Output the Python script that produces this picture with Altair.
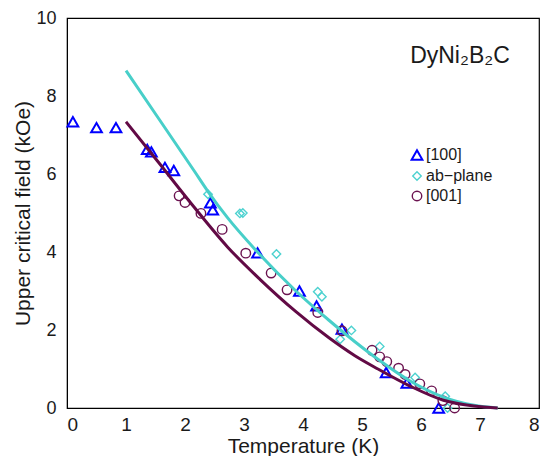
import altair as alt
import pandas as pd

# ---- data ----
tri_T = [0.10, 0.50, 0.83, 1.36, 1.43, 1.66, 1.81, 2.43, 2.47, 3.23, 3.94, 4.23, 4.66, 5.41, 5.76, 6.30]
tri_H = [7.34, 7.19, 7.19, 6.63, 6.57, 6.17, 6.09, 5.26, 5.08, 3.98, 3.00, 2.62, 2.02, 0.91, 0.64, 0.00]

dia_T = [2.39, 2.93, 2.98, 3.55, 4.25, 4.32, 4.63, 4.82, 5.30, 5.90, 6.41, 6.45]
dia_H = [5.48, 4.99, 5.00, 3.95, 2.98, 2.85, 1.76, 1.99, 1.58, 0.78, 0.30, 0.00]

circ_T = [1.90, 2.00, 2.27, 2.63, 3.03, 3.46, 3.73, 4.25, 4.66, 5.17, 5.30, 5.42, 5.62, 5.73, 5.98, 6.18, 6.37, 6.57]
circ_H = [5.44, 5.27, 4.99, 4.58, 3.97, 3.46, 3.03, 2.45, 1.98, 1.48, 1.31, 1.19, 1.02, 0.86, 0.62, 0.44, 0.19, 0.00]

turq_T = [1.0, 1.55, 2.16, 2.39, 2.72, 3.24, 3.88, 4.44, 4.88, 5.27, 5.83, 6.38, 6.9, 7.3]
turq_H = [8.65, 7.43, 6.07, 5.55, 4.88, 3.98, 3.00, 2.25, 1.70, 1.25, 0.68, 0.28, 0.07, 0.0]
purp_T = [1.0, 1.55, 2.16, 2.72, 3.27, 3.88, 4.44, 4.88, 5.27, 5.83, 6.38, 6.9, 7.3]
purp_H = [7.34, 6.30, 5.14, 4.13, 3.30, 2.47, 1.80, 1.34, 1.00, 0.55, 0.20, 0.05, 0.0]

series_names = ["[100]", "ab\u2212plane", "[001]"]
series_shapes = ["triangle-up", "diamond", "circle"]
series_colors = ["#0000FF", "#4DD2D0", "#6B1350"]
series_sizes = [115, 72, 90]
series_widths = [2.0, 1.4, 1.4]

x_major = [0, 1, 2, 3, 4, 5, 6, 7, 8]
y_labels = [0, 2, 4, 6, 8, 10]

title_text = "DyNi\u2082B\u2082C"

# ---- build tables ----
pts = pd.concat([
    pd.DataFrame({"T": tri_T, "H": tri_H, "series": series_names[0]}),
    pd.DataFrame({"T": dia_T, "H": dia_H, "series": series_names[1]}),
    pd.DataFrame({"T": circ_T, "H": circ_H, "series": series_names[2]}),
], ignore_index=True)
pts["idx"] = range(len(pts))
turq = pd.DataFrame({"T": turq_T, "H": turq_H})
purp = pd.DataFrame({"T": purp_T, "H": purp_H})

# plot area; whole svg = 59 + W + 5 = 536 wide, 10 + H + 48 = 448 tall (fits the window)
W, H = 472, 390
FONT = "Liberation Sans"
TXT = "#1a1a1a"
xs = alt.Scale(domain=[0, 8], nice=False, zero=False)
ys = alt.Scale(domain=[0, 10], nice=False, zero=False)

ax_bottom = alt.Axis(orient="bottom", values=x_major, ticks=False, domain=True, domainColor="#000000",
                     domainWidth=1, grid=False,
                     labelFontSize=19, labelPadding=7, labelFont=FONT, labelColor=TXT,
                     title="Temperature (K)", titleFontSize=21, titleFont=FONT,
                     titleFontWeight="normal", titleColor=TXT, titlePadding=1)
ax_left = alt.Axis(orient="left", values=y_labels, ticks=False, domain=True, domainColor="#000000",
                   domainWidth=1, grid=False,
                   labelFontSize=18, labelPadding=11, labelFont=FONT, labelColor=TXT,
                   title="Upper critical field  (kOe)", titleFontSize=21, titleFont=FONT,
                   titleFontWeight="normal", titleColor=TXT, titlePadding=2)

leg = alt.Legend(orient="none", legendX=342, legendY=129, title=None, labelFontSize=16,
                 labelFont=FONT, labelColor=TXT, rowPadding=4, padding=0, labelOffset=1)

X = lambda: alt.X("T:Q", scale=xs, axis=ax_bottom)
Y = lambda: alt.Y("H:Q", scale=ys, axis=ax_left)

points = alt.Chart(pts).mark_point(filled=False, opacity=1).encode(
    x=X(), y=Y(),
    shape=alt.Shape("series:N", scale=alt.Scale(type="ordinal", domain=series_names, range=series_shapes), legend=leg),
    color=alt.Color("series:N", scale=alt.Scale(type="ordinal", domain=series_names, range=series_colors), legend=leg),
    size=alt.Size("series:N", scale=alt.Scale(type="ordinal", domain=series_names, range=series_sizes), legend=leg),
    strokeWidth=alt.StrokeWidth("series:N", scale=alt.Scale(type="ordinal", domain=series_names, range=series_widths), legend=leg),
    order=alt.Order("idx:Q"),
)

line_t = alt.Chart(turq).mark_line(color="#48CFC9", strokeWidth=3, interpolate="monotone").encode(x=X(), y=Y())
line_p = alt.Chart(purp).mark_line(color="#620A45", strokeWidth=3, interpolate="monotone").encode(x=X(), y=Y())

title = alt.Chart(pd.DataFrame({"T": [6.66], "H": [8.84], "label": [title_text]})).mark_text(
    fontSize=23, font=FONT, color=TXT, align="center", baseline="alphabetic"
).encode(x=X(), y=Y(), text="label:N")

chart = alt.layer(points, line_t, line_p, title).properties(
    width=W, height=H,
    autosize=alt.AutoSizeParams(type="none"),
    padding={"left": 59, "top": 10, "right": 5, "bottom": 48},
).configure_view(stroke="#000000", strokeWidth=1.2)

chart.save("out.html", embed_options={"renderer": "svg", "actions": False})
